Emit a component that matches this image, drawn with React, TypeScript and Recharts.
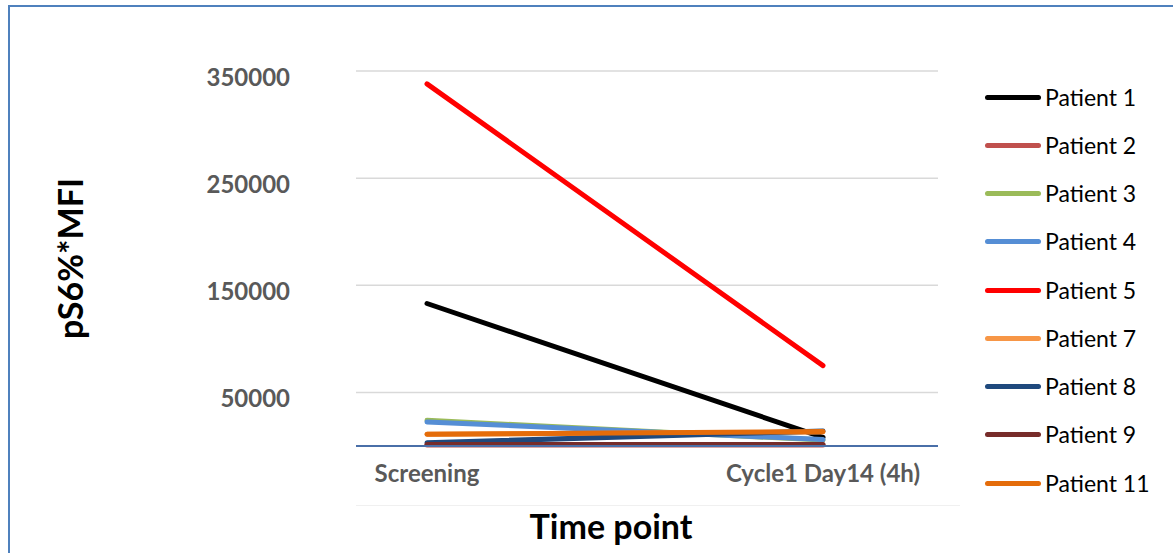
import { CartesianGrid, Label, Legend, Line, LineChart, XAxis, YAxis } from "recharts";

const timePoints = ["Screening", "Cycle1 Day14 (4h)"];

const patient1 = [133000, 8000];
const patient2 = [1000, 1000];
const patient3 = [24000, 5500];
const patient4 = [22500, 6000];
const patient5 = [338000, 75000];
const patient7 = [11000, 13000];
const patient8 = [3000, 14000];
const patient9 = [1500, 1500];
const patient11 = [11000, 13500];

const yTicks = [50000, 150000, 250000, 350000];

const series = [
  { key: "Patient 1", values: patient1, color: "#000000" },
  { key: "Patient 2", values: patient2, color: "#C0504D" },
  { key: "Patient 3", values: patient3, color: "#9BBB59" },
  { key: "Patient 4", values: patient4, color: "#558ED5" },
  { key: "Patient 5", values: patient5, color: "#FF0000" },
  { key: "Patient 7", values: patient7, color: "#F79646" },
  { key: "Patient 8", values: patient8, color: "#1F497D" },
  { key: "Patient 9", values: patient9, color: "#772C2A" },
  { key: "Patient 11", values: patient11, color: "#E46C0A" },
];

const data = timePoints.map((t, i) => {
  const row: Record<string, string | number> = { time: t };
  series.forEach((s) => { row[s.key] = s.values[i]; });
  return row;
});

const font = "Lato, 'Liberation Sans', sans-serif";
const tickStyle = { fill: "#595959", fontSize: 24, fontWeight: 700, fontFamily: font };

// legend rows follow series order (recharts would sort them by name)
function PatientLegend() {
  return (
    <div>
      {series.map((s) => (
        <div key={s.key} style={{ height: 48.25, display: "flex", alignItems: "center" }}>
          <div style={{ width: 56, height: 5, borderRadius: 3, background: s.color }} />
          <span style={{ marginLeft: 4, fontFamily: font, fontSize: 23, color: "#000", lineHeight: 1 }}>{s.key}</span>
        </div>
      ))}
    </div>
  );
}

export default function App() {
  return (
    <div style={{ position: "fixed", left: 0, top: 0, width: 1173, height: 553, background: "#fff", overflow: "hidden" }}>
      <div style={{ position: "absolute", left: 8, top: 5, width: 1300, height: 700, border: "2px solid #4F81BD", boxSizing: "border-box" }} />
      <div style={{ position: "absolute", left: 356, top: 505, width: 604, height: 1, background: "#F0F0F0" }} />
      <div style={{ position: "absolute", left: 0, top: 0 }}>
        <LineChart width={1173} height={553} data={data} margin={{ top: 71, right: 235, bottom: 47, left: 0 }}>
          <CartesianGrid vertical={false} stroke="#D9D9D9" strokeWidth={1.5} />
          <XAxis
            dataKey="time"
            padding={{ left: 71, right: 115 }}
            height={60}
            tickLine={false}
            tickSize={0}
            tickMargin={19}
            stroke="#4A6FA8"
            strokeWidth={2}
            tick={tickStyle}
          >
            <Label value="Time point" position="bottom" offset={9} dx={-36} style={{ fill: "#000", fontSize: 34, fontWeight: 700, fontFamily: font }} />
          </XAxis>
          <YAxis
            width={356}
            domain={[0, 350000]}
            ticks={yTicks}
            axisLine={false}
            tickLine={false}
            tickSize={0}
            tickMargin={66}
            tick={{ ...tickStyle, dy: 6 }}
          >
            <Label value="pS6%*MFI" angle={-90} position="insideLeft" offset={75} dx={-4} textAnchor="middle" style={{ fill: "#000", fontSize: 34, fontWeight: 700, fontFamily: font }} />
          </YAxis>
          <Legend
            layout="vertical"
            align="center"
            verticalAlign="middle"
            wrapperStyle={{ left: 985, top: 73, width: 188 }}
            content={<PatientLegend />}
          />
          {series.map((s) => (
            <Line
              key={s.key}
              dataKey={s.key}
              name={s.key}
              stroke={s.color}
              strokeWidth={5}
              strokeLinecap="round"
              dot={false}
              activeDot={false}
              isAnimationActive={false}
            />
          ))}
        </LineChart>
      </div>
    </div>
  );
}
